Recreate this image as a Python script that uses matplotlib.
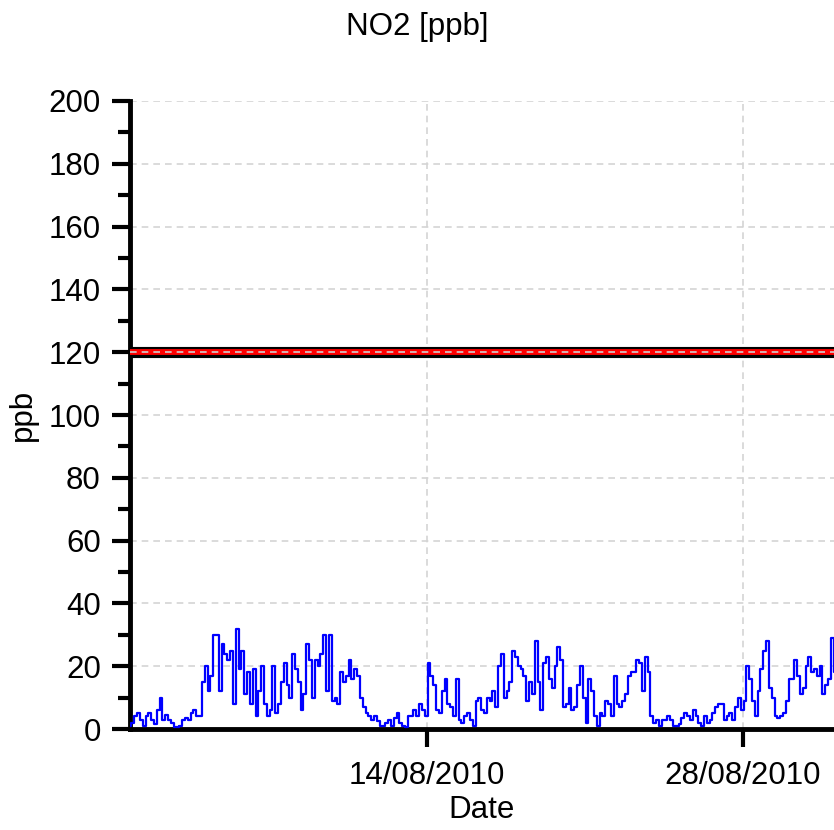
import pandas as pd
import matplotlib
matplotlib.use("Agg")
import matplotlib.pyplot as plt
import matplotlib.dates as mdates
from matplotlib.ticker import MultipleLocator

# 3-hourly NO2 readings (ppb)
start_time = "2010-07-31 20:00"
no2_ppb = [
    1, 2, 4, 5, 3, 1, 4, 5, 3, 1.5, 6, 10, 3, 4.5, 3, 2, 0.5, 0.5, 1, 3,
    3.5, 3, 5, 6, 4, 4, 15, 20, 12, 17, 30, 30, 12, 27, 24, 22, 25, 8, 32, 19,
    25, 11, 18, 8, 19, 4, 12, 20, 8, 4,
    6, 20, 5, 8, 15, 21, 14, 10, 24, 19, 15, 6, 11, 27, 22, 10, 22, 20, 24, 30,
    12, 30, 9, 10, 8, 18, 15, 17, 22, 16, 19, 17, 10, 7, 5, 4, 3, 4, 2.5, 1,
    1, 2, 3, 1, 3.5, 5, 2, 1, 0.5, 4,
    4, 6, 4, 8, 6, 4, 21, 17, 14, 6, 5, 12, 16, 8, 7, 4, 16, 3, 2, 4,
    5, 3, 1, 9, 10, 6, 5, 10, 9, 12, 7, 20, 24, 10, 12, 15, 25, 23, 20, 19,
    17, 9, 15, 11, 28, 15, 6, 21, 23, 16,
    13, 20, 26, 22, 7, 8, 13, 6, 7, 14, 20, 10, 2, 16, 12, 4, 1, 5, 4, 9,
    8, 4, 17, 8, 7, 9, 11, 17, 18, 18, 22, 21, 12, 23, 18, 4, 2, 3, 1, 3,
    3, 4, 3, 1, 1, 1.5, 3.5, 5, 4, 3,
    6, 4, 2, 1, 4, 2, 3, 5, 7, 8, 8, 3, 4, 5, 3, 7, 10, 6, 9, 20,
    16, 9, 4, 12, 19, 25, 28, 13, 10, 4, 3.5, 4, 5, 9, 16, 16, 22, 17, 11, 13,
    20, 23, 18, 19, 17, 20, 11, 14, 16, 29, 18,
]
limit_ppb = 120
x_range = ["2010-07-31 20:00", "2010-09-01 00:45"]
tick_dates = ["2010-08-14", "2010-08-28"]

times = pd.date_range(start_time, periods=len(no2_ppb), freq="3h")

plt.rcParams["font.family"] = ["Liberation Sans", "DejaVu Sans"]
fs = 22.5

fig = plt.figure(figsize=(8.34, 8.30), dpi=100)
ax = fig.add_axes([130 / 834, 1 - 729 / 830, 1 - 130 / 834, (729 - 101) / 830])

# limit line: black band, red core, grid dash on top
ax.axhline(limit_ppb, color="black", lw=8, zorder=2)
ax.axhline(limit_ppb, color="red", lw=4.2, zorder=3)
ax.axhline(limit_ppb, color="#cfcfcf", lw=1.2, ls=(0, (4, 3)), zorder=4)

ax.plot(times, no2_ppb, color="#0000ff", lw=1.6, drawstyle="steps-mid", zorder=5)

ax.set_xlim(pd.Timestamp(x_range[0]), pd.Timestamp(x_range[1]))
ax.set_ylim(0, 200)
ax.set_xticks(pd.to_datetime(tick_dates))
ax.xaxis.set_major_formatter(mdates.DateFormatter("%d/%m/%Y"))
ax.yaxis.set_major_locator(MultipleLocator(20))
ax.yaxis.set_minor_locator(MultipleLocator(10))

ax.grid(True, which="major", color="#d4d4d4", lw=1.2, ls=(0, (4, 3)))
ax.set_axisbelow(True)

for s in ["top", "right"]:
    ax.spines[s].set_visible(False)
for s in ["left", "bottom"]:
    ax.spines[s].set_linewidth(3.5)

ax.tick_params(axis="both", which="major", length=13, width=3, labelsize=fs, pad=8)
ax.tick_params(axis="y", which="minor", length=9, width=3)
ax.tick_params(axis="x", which="major", pad=10)

ax.set_xlabel("Date", fontsize=fs, labelpad=3)
ax.set_ylabel("ppb", fontsize=fs, labelpad=8)
fig.text(0.5, 1 - 27 / 830, "NO2 [ppb]", fontsize=fs, ha="center", va="center")

fig.savefig("out.png", dpi=100)
